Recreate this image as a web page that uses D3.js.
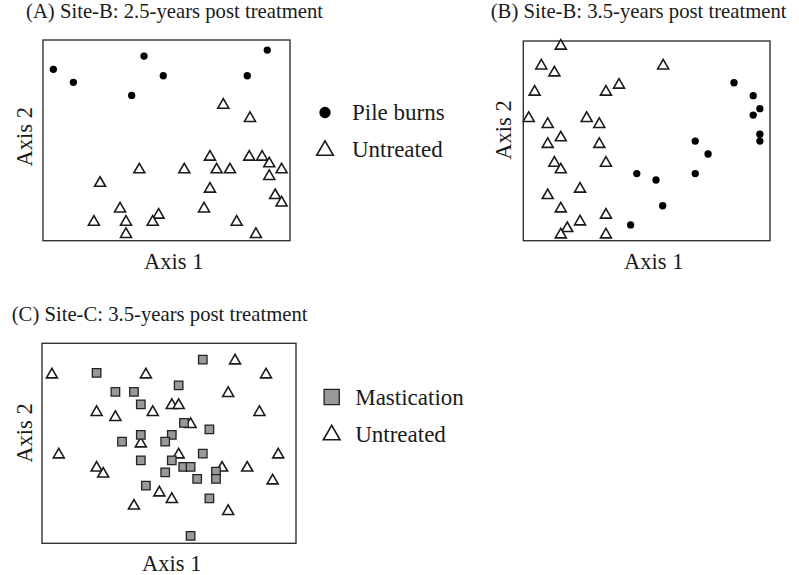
<!DOCTYPE html>
<html>
<head>
<meta charset="utf-8">
<script src="https://cdn.jsdelivr.net/npm/d3@7"></script>
<style>
  html, body { margin: 0; padding: 0; background: #fff; }
  svg { display: block; font-family: "Liberation Serif", "Times New Roman", serif; }
</style>
</head>
<body>
<svg id="chart" width="799" height="575"></svg>
<script>
// Ordination scores (axis units 0-100)
const titles = [
  "(A) Site-B: 2.5-years post treatment",
  "(B) Site-B: 3.5-years post treatment",
  "(C) Site-C: 3.5-years post treatment"
];
const axisLabels = ["Axis 1", "Axis 2"];

const pileA = [[4.2,85.4],[12.3,78.9],[40.9,92.0],[48.7,82.2],[35.9,72.4],[82.7,82.2],[90.8,95.0]];
const untreatedA = [[73.0,68.1],[83.8,61.5],[67.6,42.2],[83.5,42.2],[88.7,42.2],[91.6,38.9],[96.6,35.9],
  [91.6,32.6],[39.0,35.9],[57.2,35.9],[70.3,35.9],[75.7,35.9],[23.1,29.2],[67.6,26.3],[94.0,23.1],
  [96.6,19.4],[31.2,16.4],[65.2,16.4],[46.8,13.3],[20.6,9.8],[33.6,9.8],[44.4,9.8],[78.4,9.8],
  [33.6,3.7],[86.2,3.7]];

const pileB = [[85.4,79.1],[93.2,72.6],[95.9,66.1],[93.2,62.9],[95.9,53.3],[95.9,49.9],[69.7,49.9],
  [74.9,43.4],[69.7,33.6],[46.0,33.6],[53.8,30.4],[56.5,17.5],[43.5,7.9]];
const untreatedB = [[15.2,98.0],[7.3,88.1],[12.6,84.6],[56.7,88.1],[38.8,78.5],[33.5,75.0],[4.6,75.0],
  [2.2,61.8],[9.9,58.8],[25.7,61.8],[30.8,58.8],[15.2,52.1],[9.9,48.8],[30.8,48.8],[12.6,39.4],
  [15.2,36.1],[33.5,39.4],[23.0,26.4],[9.9,23.2],[15.2,16.5],[33.5,13.4],[23.0,10.0],[17.8,6.7],
  [15.2,3.5],[33.5,3.5]];

const masticationC = [[63.3,91.8],[21.5,85.2],[53.8,79.0],[28.9,75.7],[36.2,75.7],[38.9,69.5],[55.9,60.2],
  [65.9,57.0],[38.9,54.2],[51.1,54.2],[31.5,50.8],[48.5,50.8],[63.3,44.8],[38.9,41.5],[51.1,41.5],
  [55.6,38.2],[58.5,38.2],[68.5,35.8],[48.5,35.5],[61.1,32.2],[68.5,32.2],[40.9,28.8],[65.9,22.5],
  [58.5,3.7]];
const untreatedC = [[3.9,84.8],[40.9,84.8],[76.0,91.8],[88.2,84.8],[73.3,75.5],[21.5,66.0],[28.9,63.5],
  [43.6,66.0],[51.1,69.5],[53.8,69.5],[85.6,66.0],[58.5,60.0],[38.9,50.3],[6.6,44.8],[53.8,44.8],
  [93.0,44.8],[21.5,38.2],[24.1,35.2],[70.9,38.2],[80.8,38.2],[90.8,31.8],[46.2,25.8],[51.1,22.5],
  [36.2,19.2],[73.3,16.5]];

const legendAB = ["Pile burns", "Untreated"];
const legendC = ["Mastication", "Untreated"];

const svg = d3.select("#chart");
const ink = "#1a1a1a";

const sym = {
  circle: d3.symbol().type(d3.symbolCircle),
  triangle: d3.symbol().type(d3.symbolTriangle),
  square: d3.symbol().type(d3.symbolSquare)
};

function drawMark(g, type, x, y, size) {
  const p = g.append("path")
    .attr("transform", `translate(${x},${y})` + (type === "triangle" ? " translate(0,1)" : ""))
    .attr("d", sym[type].size(size)());
  if (type === "circle") p.attr("fill", "#000");
  else if (type === "triangle") p.attr("fill", "#fff").attr("stroke", ink).attr("stroke-width", 1.6).attr("stroke-linejoin", "miter");
  else p.attr("fill", "#999").attr("stroke", "#222").attr("stroke-width", 1.3);
  return p;
}

const panels = [
  { box: [43, 40, 290, 240.7], title: titles[0], tx: 26, ty: 17.5,
    ax1: [173.7, 269], ax2: [32, 136.7],
    series: [{ data: untreatedA, type: "triangle" }, { data: pileA, type: "circle" }],
    legend: { x: 325, y: 112.5, dx: 27, items: [["circle", legendAB[0]], ["triangle", legendAB[1]]] } },
  { box: [523.3, 41, 770, 240.7], title: titles[1], tx: 490.7, ty: 17.5,
    ax1: [653.7, 268.5], ax2: [511, 130],
    series: [{ data: untreatedB, type: "triangle" }, { data: pileB, type: "circle" }],
    legend: null },
  { box: [42, 343.3, 296, 543.3], title: titles[2], tx: 11.7, ty: 320.7,
    ax1: [171.7, 571], ax2: [32, 433],
    series: [{ data: untreatedC, type: "triangle" }, { data: masticationC, type: "square" }],
    legend: { x: 331.7, y: 397, dx: 23.5, items: [["square", legendC[0]], ["triangle", legendC[1]]] } }
];

const markSize = { circle: 42, triangle: 52, square: 72 };

panels.forEach(p => {
  const [x0, y0, x1, y1] = p.box;
  const xs = d3.scaleLinear().domain([0, 100]).range([x0, x1]);
  const ys = d3.scaleLinear().domain([0, 100]).range([y1, y0]);

  svg.append("text").attr("x", p.tx).attr("y", p.ty)
    .attr("font-size", 20.7).attr("fill", ink).text(p.title);

  svg.append("rect").attr("x", x0).attr("y", y0)
    .attr("width", x1 - x0).attr("height", y1 - y0)
    .attr("fill", "none").attr("stroke", "#333").attr("stroke-width", 1.4);

  const g = svg.append("g");
  p.series.forEach(s => {
    s.data.forEach(d => drawMark(g, s.type, xs(d[0]), ys(d[1]), markSize[s.type]));
  });

  svg.append("text").attr("x", p.ax1[0]).attr("y", p.ax1[1])
    .attr("text-anchor", "middle").attr("font-size", 22.5).attr("fill", ink).text(axisLabels[0]);
  svg.append("text")
    .attr("transform", `translate(${p.ax2[0]},${p.ax2[1]}) rotate(-90)`)
    .attr("text-anchor", "middle").attr("font-size", 22.5).attr("fill", ink).text(axisLabels[1]);

  if (p.legend) {
    const lg = svg.append("g");
    p.legend.items.forEach((it, i) => {
      const ly = p.legend.y + i * 37;
      const sz = it[0] === "circle" ? 100 : it[0] === "triangle" ? 120 : 230;
      drawMark(lg, it[0], p.legend.x, ly, sz);
      lg.append("text").attr("x", p.legend.x + p.legend.dx).attr("y", ly + 7.5)
        .attr("font-size", 23).attr("fill", ink).text(it[1]);
    });
  }
});
</script>
</body>
</html>
